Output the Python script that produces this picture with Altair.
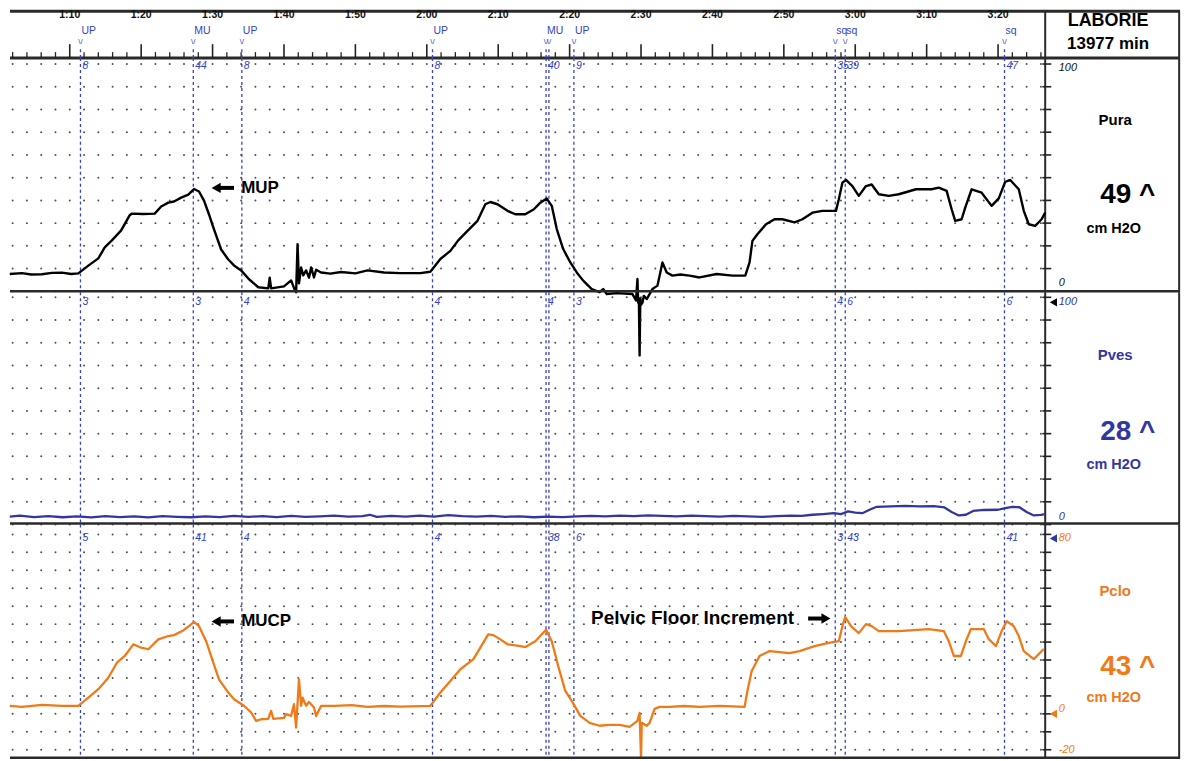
import altair as alt
import pandas as pd

# ---------------- layout constants ----------------
T0, T1 = 61.63, 225.48     # time domain (s) of the whole strip incl. right box
T_AX = 206.6               # time at which the right-hand value axis sits
W = 1174
HDR_H, P1_H, P2_H, P3_H = 47, 235, 233, 235
HDR_DOM = [0, 47]
P1_DOM = [-0.44, 102.6]
P2_DOM = [0, 102.2]
P3_DOM = [-20, 84.4]

EV_COL = "#3443c4"
BLUE = "#32379f"
ORANGE = "#f07a18"
FONT = "Liberation Sans"

# ---------------- data ----------------
TIME_TICKS = [70, 80, 90, 100, 110, 120, 130, 140, 150, 160, 170, 180, 190, 200]
TIME_LABELS = ["1:10", "1:20", "1:30", "1:40", "1:50", "2:00", "2:10", "2:20",
               "2:30", "2:40", "2:50", "3:00", "3:10", "3:20"]

EVENT_T = [71.5, 87.3, 94.1, 120.8, 136.7, 137.1, 140.6, 177.2, 178.6, 200.9]
EVENT_LABEL = ["UP", "MU", "UP", "UP", "MU", "", "UP", "sq", "sq", "sq"]
EVENT_PURA = ["8", "44", "8", "8", "40", "", "9", "35", "39", "47"]
EVENT_PVES = ["3", "3", "4", "4", "4", "", "3", "4", "6", "6"]
EVENT_PCLO = ["5", "41", "4", "4", "38", "", "6", "3", "43", "41"]

PURA = [
    (61.6, 7.6), (63.3, 8.0), (64.6, 7.4), (66.1, 7.5), (67.5, 8.1), (68.9, 8.2), (70.2, 7.6), (71.2, 7.9),
    (72.6, 11.3), (74.0, 14.5), (74.9, 19.3), (75.9, 22.4), (77.2, 26.8), (78.4, 33.5), (78.7, 34.2),
    (80.3, 34.0), (81.9, 34.2), (82.8, 37.3), (83.8, 39.0), (84.6, 39.5), (85.6, 41.2), (86.6, 42.5),
    (87.4, 45.0), (88.1, 43.9), (88.8, 39.9), (89.5, 33.8), (90.2, 27.2), (91.2, 18.4), (92.2, 14.0),
    (93.0, 11.4), (94.0, 9.2), (95.1, 5.3), (96.4, 1.8), (97.8, 1.3), (98.0, 6.0), (98.2, 1.3),
    (100.0, 2.2), (101.0, 4.8), (101.4, 1.5), (101.7, -0.4), (101.9, 20.7), (102.1, 3.5), (102.4, 10.5),
    (102.7, 7.0), (103.1, 9.2), (103.5, 6.0), (103.8, 10.5), (104.2, 6.1), (104.5, 9.5), (105.2, 8.3),
    (106.5, 7.8), (108.0, 8.5), (110.0, 7.9), (111.7, 9.2), (114.0, 8.3), (116.3, 8.0),
    (119.1, 8.0), (120.5, 8.6), (121.9, 14.2), (123.3, 17.8), (124.4, 22.4), (125.7, 26.6),
    (127.1, 31.0), (128.2, 38.3), (128.9, 39.3), (129.9, 38.3), (131.3, 35.4), (132.4, 33.9),
    (133.8, 33.9), (135.0, 36.1), (135.9, 39.0), (136.8, 40.8), (137.5, 37.6), (138.2, 27.4),
    (139.1, 18.6), (140.1, 12.7), (141.0, 8.3), (141.9, 4.7), (143.1, 1.0), (144.2, -0.4),
    (144.7, 1.0), (145.2, -1.2), (146.6, -0.8), (148.8, -1.2), (149.3, -4.0), (149.5, 5.4),
    (149.6, -5.0), (149.7, -3.0), (149.8, -28.2), (149.9, -3.0), (150.0, -6.0), (150.2, -5.0),
    (150.4, -2.0), (150.8, -3.4), (151.6, 1.0), (152.3, 2.5), (153.0, 12.7), (153.6, 8.3),
    (154.4, 6.9), (155.5, 7.4), (156.8, 6.9), (158.2, 6.1),
    (160.6, 7.6), (162.8, 6.9), (164.6, 6.9), (165.2, 12.7), (165.6, 22.2), (166.3, 25.1),
    (167.5, 29.5), (168.7, 31.7), (169.8, 31.7), (171.5, 30.3), (172.6, 31.7), (174.0, 34.6),
    (175.4, 35.4), (177.3, 35.4), (177.7, 40.5), (178.2, 47.8), (178.7, 49.0), (179.6, 46.3),
    (180.5, 42.0), (181.5, 46.3), (182.3, 47.0), (183.3, 42.7), (184.7, 42.0), (186.1, 42.7),
    (188.5, 44.9), (190.7, 44.9), (191.7, 45.6), (192.8, 44.2), (193.5, 36.1), (194.0, 31.0),
    (194.9, 31.7), (195.4, 36.8), (196.3, 44.9), (197.7, 43.4), (199.1, 37.6), (200.1, 40.9),
    (201.0, 48.2), (201.7, 49.0), (202.9, 44.9), (203.6, 35.4), (204.3, 29.5), (205.2, 28.8),
    (206.1, 31.7), (206.6, 34.6),
]

PVES = [
    (61.6, 3.5), (63, 3.9), (65, 3.3), (67, 3.7), (69, 3.2), (71, 3.6), (73, 3.1), (75, 3.7),
    (77, 3.3), (79, 3.6), (81, 3.1), (83, 3.7), (85, 3.4), (87, 3.2), (89, 3.6), (91, 3.3),
    (93, 3.8), (95, 3.4), (97, 3.7), (99, 3.3), (101, 3.8), (103, 3.4), (105, 3.6), (107, 3.9),
    (109, 3.5), (111, 3.7), (112, 4.3), (113, 3.4), (115, 3.8), (117, 3.5), (119, 3.9), (121, 3.5),
    (123, 4.1), (125, 3.7), (127, 3.5), (129, 3.8), (131, 3.4), (133, 3.6), (135, 3.2), (137, 3.5),
    (139, 3.3), (141, 3.6), (143, 3.8), (145, 3.6), (147, 3.9), (149, 3.7), (151, 4.0), (153, 3.8),
    (155, 3.6), (157, 3.9), (159, 3.7), (161, 3.5), (163, 3.8), (165, 3.6), (167, 3.4), (169, 3.7),
    (171, 3.9), (172.5, 3.8), (174, 4.3), (175.5, 4.6), (177, 5.0), (178, 4.6), (179, 5.8),
    (180, 5.2), (181, 5.0), (182, 6.5), (183, 7.8), (185, 8.0), (187, 8.2), (189, 8.0), (191, 8.1),
    (192.5, 7.5), (193.5, 5.5), (194.5, 4.0), (195.5, 4.3), (196.5, 6.0), (198, 6.4), (200, 6.5),
    (201, 7.2), (202, 7.8), (203, 7.6), (204, 5.5), (205, 4.0), (206, 4.2), (206.6, 4.6),
]

PCLO = [
    (61.6, 3.6), (63.3, 3.1), (66.1, 4.0), (68.9, 3.6), (71.2, 3.6), (72.6, 7.2), (74.0, 11.0),
    (75.4, 16.1), (76.6, 22.8), (77.7, 25.8), (78.9, 31.0), (80.0, 29.5), (81.0, 28.8), (82.4, 33.2),
    (83.8, 34.7), (84.6, 35.1), (85.9, 37.2), (86.7, 39.1), (87.4, 41.0), (88.1, 39.1), (89.1, 32.4),
    (90.1, 22.8), (90.9, 15.4), (92.2, 9.5), (93.0, 6.5), (94.4, 3.6), (95.4, 0.6), (96.1, -3.1),
    (96.8, -2.4), (97.8, -2.2), (98.2, 1.3), (98.5, -2.2), (100.0, -1.8), (100.3, -0.1), (101.0, -0.9),
    (101.4, 4.3), (101.7, -6.1), (102.1, 15.4), (102.4, 3.6), (102.6, 7.2), (103.1, 3.6), (103.5, 5.3),
    (104.2, 2.8), (104.5, -0.9), (105.2, 3.6), (107.0, 3.6), (109.5, 3.9), (111.7, 3.1), (114.0, 3.5),
    (116.3, 3.2), (120.5, 3.6), (121.9, 9.5), (123.3, 14.7), (124.7, 19.9), (126.5, 24.3),
    (127.5, 29.5), (128.6, 35.4), (129.3, 35.1), (130.3, 33.2), (131.3, 31.0), (133.1, 30.2),
    (133.8, 29.8), (135.2, 32.4), (136.7, 37.5), (137.5, 32.4), (138.4, 21.3), (139.4, 10.2),
    (140.3, 5.8), (141.5, -0.9), (142.8, -4.0), (144.2, -5.3), (145.6, -4.9), (147.0, -4.9),
    (148.4, -5.8), (149.5, -3.1), (149.8, 0.4), (150.0, -19.6), (150.1, -4.0), (150.8, -5.3),
    (151.2, -4.0), (151.9, 2.2), (152.6, 3.1), (154.0, 3.1), (156.0, 3.5), (158.2, 3.1),
    (161.0, 3.6), (164.5, 3.1), (164.9, 10.2), (165.5, 19.1), (166.6, 25.8), (168.0, 28.0),
    (170.8, 27.1), (172.2, 28.0), (174.3, 30.2), (176.3, 31.6), (177.7, 32.4), (178.2, 39.1),
    (178.6, 43.1), (179.4, 39.1), (180.5, 36.0), (181.5, 40.0), (182.3, 39.1), (183.3, 36.9),
    (186.1, 36.9), (190.3, 37.8), (192.4, 36.9), (193.1, 32.4), (193.8, 25.8), (194.8, 25.8),
    (195.5, 32.4), (196.2, 37.8), (198.0, 37.8), (198.7, 33.3), (199.7, 30.2), (200.5, 36.9),
    (201.2, 41.3), (202.2, 39.1), (202.9, 34.7), (203.6, 28.0), (205.0, 24.4), (206.4, 28.9),
]

GRID_T = list(range(62, 207, 2))
P1_ROWS = list(range(0, 101, 10))
P2_ROWS = list(range(0, 101, 10))
P3_ROWS = list(range(-16, 81, 8))
P1_TICKS = list(range(0, 101, 10))
P2_TICKS = list(range(0, 101, 10))
P3_TICKS = list(range(-16, 81, 8))


# ---------------- helpers ----------------
def xenc(field="t"):
    return alt.X(f"{field}:Q", scale=alt.Scale(domain=[T0, T1], nice=False, zero=False), axis=None)


def yenc(dom, field="v"):
    return alt.Y(f"{field}:Q", scale=alt.Scale(domain=dom, nice=False, zero=False), axis=None)


def hline(dom, v, width, color="#2a2a2a", t_from=T0, t_to=T1):
    df = pd.DataFrame({"t": [t_from], "t2": [t_to], "v": [v]})
    return alt.Chart(df).mark_rule(color=color, strokeWidth=width).encode(
        x=xenc(), x2="t2:Q", y=yenc(dom))


def vline_full(t, H, width, color="#2a2a2a"):
    df = pd.DataFrame({"t": [t]})
    return alt.Chart(df).mark_rule(color=color, strokeWidth=width).encode(
        x=xenc(), y=alt.value(0), y2=alt.value(H))


def text_at(dom, t, v, txt, size, color="black", weight="bold", align="center", style="normal", baseline="middle"):
    df = pd.DataFrame({"t": [t], "v": [v], "s": [txt]})
    return alt.Chart(df).mark_text(font=FONT, fontSize=size, fontWeight=weight, color=color,
                                   align=align, fontStyle=style, baseline=baseline).encode(
        x=xenc(), y=yenc(dom), text="s:N")


def arrow(dom, t_head, t_tail, v, direction="left"):
    shaft = pd.DataFrame({"t": [t_head], "t2": [t_tail], "v": [v]})
    head = pd.DataFrame({"t": [t_head], "v": [v]})
    shape = "triangle-left" if direction == "left" else "triangle-right"
    return [
        alt.Chart(shaft).mark_rule(color="black", strokeWidth=4).encode(x=xenc(), x2="t2:Q", y=yenc(dom)),
        alt.Chart(head).mark_point(shape=shape, filled=True, size=110, color="black", opacity=1).encode(
            x=xenc(), y=yenc(dom)),
    ]


# ---------------- header ----------------
hdr_layers = []
hdr_layers.append(hline(HDR_DOM, 47, 3))
hdr_layers.append(hline(HDR_DOM, 0, 3))
maj = pd.DataFrame({"t": TIME_TICKS, "v": 0, "v2": 14, "s": TIME_LABELS})
minor = pd.DataFrame({"t": [t for t in GRID_T if t % 10], "v": 0, "v2": 6})
hdr_layers.append(alt.Chart(maj).mark_rule(color="#222", strokeWidth=1.6).encode(
    x=xenc(), y=yenc(HDR_DOM), y2="v2:Q"))
hdr_layers.append(alt.Chart(minor).mark_rule(color="#222", strokeWidth=1.3).encode(
    x=xenc(), y=yenc(HDR_DOM), y2="v2:Q"))
maj_lab = maj.assign(v=43)
hdr_layers.append(alt.Chart(maj_lab).mark_text(font=FONT, fontSize=10.5, fontWeight="bold",
                                               color="#111", baseline="middle").encode(
    x=xenc(), y=yenc(HDR_DOM), text="s:N"))
ev_h = pd.DataFrame({"t": EVENT_T, "s": EVENT_LABEL, "v": 27, "v0": 0, "v2": 11, "vc": 16})
hdr_layers.append(alt.Chart(ev_h).mark_text(font=FONT, fontSize=10.5, color=EV_COL, align="left",
                                            dx=1, baseline="middle").encode(
    x=xenc(), y=yenc(HDR_DOM), text="s:N"))
hdr_layers.append(alt.Chart(ev_h).mark_text(font=FONT, fontSize=8, color=EV_COL, baseline="middle",
                                            text="\\/").encode(
    x=xenc(), y=yenc(HDR_DOM, "vc")))
hdr_layers.append(alt.Chart(ev_h).mark_rule(color=EV_COL, strokeWidth=1.3, strokeDash=[3, 3]).encode(
    x=xenc(), y=yenc(HDR_DOM, "v0"), y2="v2:Q"))
hdr_layers.append(vline_full(T_AX, HDR_H, 2))
hdr_layers.append(vline_full(T1 - 0.12, HDR_H, 2))
hdr_layers.append(text_at(HDR_DOM, 215.4, 37, "LABORIE", 18))
hdr_layers.append(text_at(HDR_DOM, 215.4, 14, "13977 min", 17))
header = alt.layer(*hdr_layers).properties(width=W, height=HDR_H)


# ---------------- trace panels ----------------
def panel(series, color, lw, H, dom, rows, ticks, ev_nums, num_y, ax_labels,
          tris, name, big, name_v, big_v, unit_v, txt_color, extra):
    L = []
    grid = pd.DataFrame([(t, v) for t in GRID_T for v in rows], columns=["t", "v"])
    L.append(alt.Chart(grid).mark_circle(size=4, color="#3c3c3c", opacity=0.9).encode(
        x=xenc(), y=yenc(dom)))
    ev = pd.DataFrame({"t": EVENT_T, "n": ev_nums})
    L.append(alt.Chart(ev).mark_rule(color=EV_COL, strokeDash=[3, 3], strokeWidth=1.3).encode(
        x=xenc(), y=alt.value(0), y2=alt.value(H)))
    L.append(alt.Chart(ev).mark_text(font=FONT, align="left", baseline="middle", dx=2, fontSize=10.5,
                                     fontStyle="italic", color=EV_COL).encode(
        x=xenc(), y=alt.value(num_y), text="n:N"))
    # right axis
    L.append(vline_full(T_AX, H, 2))
    L.append(vline_full(T1 - 0.12, H, 2))
    tk = pd.DataFrame({"t": T_AX - 0.4, "t2": T_AX + 0.85, "v": ticks})
    L.append(alt.Chart(tk).mark_rule(color="#222", strokeWidth=1.6).encode(
        x=xenc(), x2="t2:Q", y=yenc(dom)))
    for (s, v, c) in ax_labels:
        L.append(text_at(dom, 208.5, v, s, 11, color=c, weight="normal", align="left", style="italic"))
    for (v, c) in tris:
        tdf = pd.DataFrame({"t": [207.75], "v": [v]})
        L.append(alt.Chart(tdf).mark_point(shape="triangle-left", filled=True, size=70, color=c,
                                           opacity=1).encode(x=xenc(), y=yenc(dom)))
    # right box text
    L.append(text_at(dom, 216.4, name_v, name, 15, color=txt_color))
    L.append(text_at(dom, 214.3, big_v, big, 28, color=txt_color, align="left"))
    L.append(text_at(dom, 216.2, unit_v, "cm H2O", 14.5, color=txt_color))
    # trace
    df = pd.DataFrame(series, columns=["t", "v"])
    df["i"] = range(len(df))
    L.append(alt.Chart(df).mark_line(color=color, strokeWidth=lw, strokeJoin="round").encode(
        x=xenc(), y=yenc(dom), order="i:Q"))
    L.extend(extra)
    # bottom separator
    sep = pd.DataFrame({"t": [T0], "t2": [T1]})
    L.append(alt.Chart(sep).mark_rule(color="#2a2a2a", strokeWidth=2.5).encode(
        x=xenc(), x2="t2:Q", y=alt.value(H - 1)))
    return alt.layer(*L).properties(width=W, height=H)


p1_extra = arrow(P1_DOM, 90.5, 93.0, 45.5, "left") + [
    text_at(P1_DOM, 94.0, 45.5, "MUP", 17, align="left"),
]
p3_extra = arrow(P3_DOM, 90.5, 93.0, 41.2, "left") + [
    text_at(P3_DOM, 94.0, 41.2, "MUCP", 17, align="left"),
    text_at(P3_DOM, 143.0, 42.5, "Pelvic Floor Increment", 19, align="left"),
] + arrow(P3_DOM, 175.9, 173.4, 42.5, "right")

p1 = panel(PURA, "#000000", 2.4, P1_H, P1_DOM, P1_ROWS, P1_TICKS, EVENT_PURA, 8,
           [("100", 98.3, "#111"), ("0", 3.5, "#111")], [],
           "Pura", "49 ^", 75.4, 42.5, 27.6, "#000000", p1_extra)
p2 = panel(PVES, BLUE, 2.3, P2_H, P2_DOM, P2_ROWS, P2_TICKS, EVENT_PVES, 10,
           [("100", 97.8, BLUE), ("0", 3.1, BLUE)], [(97.8, "#000000")],
           "Pves", "28 ^", 74.6, 40.8, 26.3, BLUE, [])
p3 = panel(PCLO, ORANGE, 2.3, P3_H, P3_DOM, P3_ROWS, P3_TICKS, EVENT_PCLO, 14,
           [("80", 78.2, ORANGE), ("0", 2.2, ORANGE), ("-20", -16.0, ORANGE)],
           [(78.2, "#2f3aa8"), (0.0, ORANGE)],
           "Pclo", "43 ^", 54.7, 20.9, 7.1, ORANGE, p3_extra)

chart = alt.vconcat(header, p1, p2, p3, spacing=0, bounds="flush").properties(
    padding=0
).configure(font=FONT).configure_view(strokeWidth=0)

chart.save("out.html", embed_options={"renderer": "svg", "actions": False})
